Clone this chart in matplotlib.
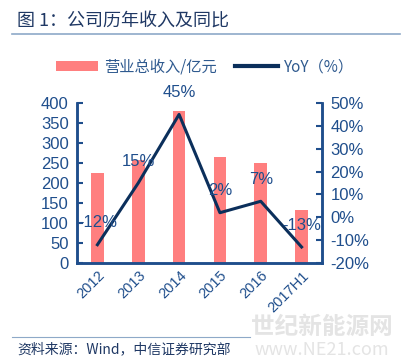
import matplotlib
matplotlib.use("Agg")
import matplotlib.pyplot as plt
from matplotlib.lines import Line2D
from matplotlib.patches import Patch
import numpy as np

plt.rcParams['font.family'] = ['Noto Sans CJK SC', 'DejaVu Sans']

categories = ['2012', '2013', '2014', '2015', '2016', '2017H1']
revenue = [225, 257, 379, 265, 250, 133]
yoy = [-12, 15, 45, 2, 7, -13]
yoy_labels = ['-12%', '15%', '45%', '2%', '7%', '-13%']

bar_color = '#FF7F7F'
line_color = '#0B2F5B'
axis_color = '#1F4E8C'
text_color = '#1F4E8C'

fig = plt.figure(figsize=(4.10, 3.62), dpi=100)
ax = fig.add_axes([77/410, 1-263/362, (322-77)/410, (263-103)/362])
x = np.arange(len(categories))
ax.bar(x, revenue, width=0.31, color=bar_color, zorder=1)
ax.set_xlim(-0.5, len(categories)-0.5)
ax.set_ylim(0, 400)
ax.set_yticks(range(0, 401, 50))
ax.set_xticks(x)
ax.set_xticklabels(categories, rotation=45, ha='right', rotation_mode='anchor',
                   fontsize=10.5, color=text_color, family='Liberation Sans')
for lbl in ax.get_yticklabels():
    lbl.set_family('Liberation Sans')
ax.tick_params(axis='y', direction='in', length=4, width=1.5, color=axis_color,
               labelsize=12, labelcolor=text_color, pad=6)
ax.tick_params(axis='x', length=0, pad=4)

ax2 = ax.twinx()
ax2.plot(x, yoy, color=line_color, linewidth=2.2, zorder=3)
ax2.set_ylim(-20, 50)
ax2.set_yticks(range(-20, 51, 10))
ax2.set_yticklabels([f'{v}%' for v in range(-20, 51, 10)], family='Liberation Sans')
ax2.tick_params(axis='y', direction='in', length=4, width=1.5, color=axis_color,
                labelsize=12, labelcolor=text_color, pad=6)
for xi, v, lab in zip(x, yoy, yoy_labels):
    ax2.annotate(lab, (xi, v), xytext=(0, 22), textcoords='offset pixels',
                 ha='center', va='center', fontsize=12, color=text_color, family='Liberation Sans')

for a in (ax, ax2):
    a.spines['top'].set_visible(False)
    for s in ('left', 'right', 'bottom'):
        a.spines[s].set_color(axis_color)
        a.spines[s].set_linewidth(1.8)

# Legend
handles = [Patch(facecolor=bar_color, edgecolor='none'),
           Line2D([0], [0], color=line_color, linewidth=3)]
fig.legend(handles, ['营业总收入/亿元', 'YoY（%）'], loc='center', bbox_to_anchor=(0.5, 1-67/362),
           ncol=2, frameon=False, fontsize=11, labelcolor='#2F5A8F',
           handlelength=2.8, handleheight=0.6, columnspacing=1.2, handletextpad=0.4)

# Title
fig.text(17/410, 1-22/362, '图 1：公司历年收入及同比', fontsize=13, color='#1F3864',
         fontweight='medium', va='center', ha='left')
fig.add_artist(Line2D([12/410, 400/410], [1-34/362, 1-34/362], color='#8EA9C8', linewidth=1.2))

# Footer
fig.add_artist(Line2D([12/410, 250/410], [1-337/362, 1-337/362], color='#8EA9C8', linewidth=0.8))
fig.text(17/410, 1-349/362, '资料来源：Wind，中信证券研究部', fontsize=10, color='#1F3864',
         va='center', ha='left')
fig.text(322/410, 1-327/362, '世纪新能源网', fontsize=17, color='#E4E4E4', va='center', ha='center',
         fontweight='bold')
fig.text(322/410, 1-350/362, 'www.NE21.com', fontsize=13, color='#E4E4E4', va='center', ha='center')

fig.savefig('out.png', dpi=100)
